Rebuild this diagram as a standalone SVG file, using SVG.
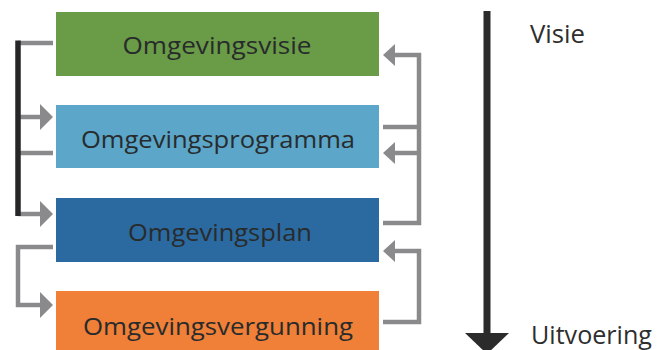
<svg xmlns="http://www.w3.org/2000/svg" width="657" height="350" viewBox="0 0 657 350">
<style>
.box text{font-family:"Open Sans","Liberation Sans",sans-serif;font-size:24px;fill:#282b2c;text-anchor:middle}
.lbl{font-family:"Open Sans","Liberation Sans",sans-serif;font-size:25px;fill:#2e2e2e}
.g{fill:none;stroke:#8a8a8c;stroke-width:4.5}
.k{fill:none;stroke:#262626;stroke-width:5.5}
.ah{fill:#8a8a8c}
</style>
<rect width="657" height="350" fill="#ffffff"/>
<g id="node-visie" class="box">
<rect x="56" y="12" width="323" height="64" fill="#6a9b47"/>
<text x="217" y="54" textLength="189" lengthAdjust="spacingAndGlyphs">Omgevingsvisie</text>
</g>
<g id="node-programma" class="box">
<rect x="56" y="105" width="323" height="63" fill="#5ba6c9"/>
<text x="218" y="148" textLength="274" lengthAdjust="spacingAndGlyphs">Omgevingsprogramma</text>
</g>
<g id="node-plan" class="box">
<rect x="56" y="198" width="323" height="64" fill="#2b6aa0"/>
<text x="220" y="241" textLength="184" lengthAdjust="spacingAndGlyphs">Omgevingsplan</text>
</g>
<g id="node-vergunning" class="box">
<rect x="56" y="291" width="323" height="59" fill="#f07f37"/>
<text x="218" y="335" textLength="270" lengthAdjust="spacingAndGlyphs">Omgevingsvergunning</text>
</g>
<g id="connectors">
<!-- left top group -->
<path class="g" d="M53 43 H18"/>
<path class="g" d="M18 117 H41"/>
<path class="g" d="M53 153 H18"/>
<path class="g" d="M18 214 H41"/>
<path class="k" d="M18 40.5 V216"/>
<polygon class="ah" points="40,104 53,117 40,130"/>
<polygon class="ah" points="40,201 53,214 40,227"/>
<!-- left bottom -->
<path class="g" d="M53 247 H18 V305 H41"/>
<polygon class="ah" points="40,292 53,305 40,318"/>
<!-- right top group -->
<path class="g" d="M394 55 H419 V223 H383"/>
<path class="g" d="M383 127 H419"/>
<path class="g" d="M394 153 H419"/>
<polygon class="ah" points="395,44 383,55 395,66"/>
<polygon class="ah" points="395,142 383,153 395,164"/>
<!-- right bottom -->
<path class="g" d="M394 251 H419 V322 H383"/>
<polygon class="ah" points="395,240 383,251 395,262"/>
<!-- timeline arrow -->
<path d="M487 11 V336" stroke="#2b2b2b" stroke-width="7" fill="none"/>
<polygon points="465,333 509,333 487,354" fill="#2b2b2b"/>
</g>
<text class="lbl" x="530" y="43" textLength="55" lengthAdjust="spacingAndGlyphs">Visie</text>
<text class="lbl" x="531" y="344" textLength="121" lengthAdjust="spacingAndGlyphs">Uitvoering</text>
</svg>
